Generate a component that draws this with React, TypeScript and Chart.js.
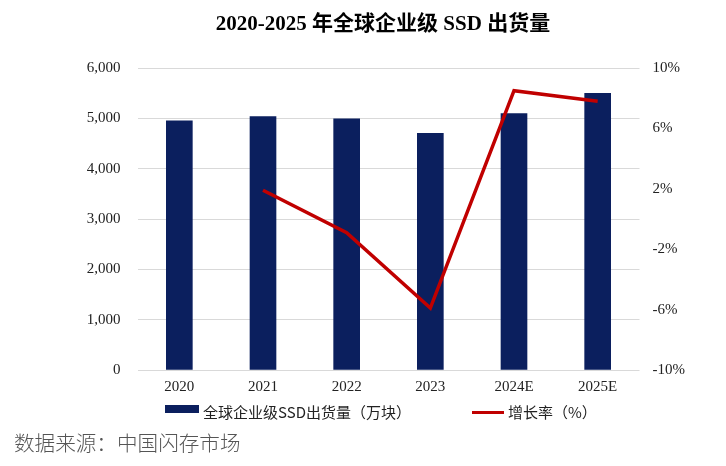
import React, { useEffect, useRef } from "react";
import { Chart, registerables } from "chart.js";

Chart.register(...registerables);

const titleText = "2020-2025 年全球企业级 SSD 出货量";
const sourceText = "数据来源：中国闪存市场";
const categories = ["2020", "2021", "2022", "2023", "2024E", "2025E"];
const shipments = [4950, 5035, 4990, 4700, 5095, 5495];
const growth: (number | null)[] = [null, 1.9, -0.9, -5.9, 8.5, 7.8];
const barLabel = "全球企业级SSD出货量（万块）";
const lineLabel = "增长率（%）";
const leftMin = 0;
const leftMax = 6000;
const leftStep = 1000;
const rightMin = -10;
const rightMax = 10;
const rightStep = 4;

const NAVY = "#0b1f5e";
const RED = "#c00000";
const SERIF = "'Liberation Serif', 'Times New Roman', serif";
const SANS_CJK = "'Noto Sans CJK SC', 'Noto Sans', sans-serif";

export default function App() {
  const canvasRef = useRef<HTMLCanvasElement | null>(null);

  useEffect(() => {
    const canvas = canvasRef.current;
    if (!canvas) return;
    const chart = new Chart(canvas, {
      type: "bar",
      data: {
        labels: categories,
        datasets: [
          {
            type: "line",
            label: lineLabel,
            data: growth,
            yAxisID: "y1",
            borderColor: RED,
            backgroundColor: RED,
            borderWidth: 3.5,
            pointRadius: 0,
            tension: 0,
            order: 0,
          } as any,
          {
            type: "bar",
            label: barLabel,
            data: shipments,
            yAxisID: "y",
            backgroundColor: NAVY,
            barThickness: 26,
            order: 1,
          } as any,
        ],
      },
      options: {
        animation: false,
        responsive: true,
        maintainAspectRatio: false,
        layout: { padding: { top: 68, left: 0, right: 0, bottom: 66 } },
        plugins: {
          legend: { display: false },
          title: { display: false },
          tooltip: { enabled: false },
        },
        scales: {
          x: {
            grid: { display: false, drawTicks: false },
            border: { display: false },
            ticks: {
              color: "#222",
              font: { family: SERIF, size: 15 },
              padding: 8,
            },
            afterFit: (s: any) => {
              s.height = 30;
            },
          },
          y: {
            position: "left",
            min: leftMin,
            max: leftMax,
            grid: { color: "#d9d9d9", lineWidth: 1, drawTicks: false },
            border: { display: false },
            ticks: {
              stepSize: leftStep,
              color: "#222",
              font: { family: SERIF, size: 15 },
              padding: 17,
              callback: (v: any) => Number(v).toLocaleString("en-US"),
            },
            afterFit: (s: any) => {
              s.width = 137.5;
            },
          },
          y1: {
            position: "right",
            min: rightMin,
            max: rightMax,
            grid: { display: false, drawTicks: false },
            border: { display: false },
            ticks: {
              stepSize: rightStep,
              color: "#222",
              font: { family: SERIF, size: 15 },
              padding: 13,
              callback: (v: any) => `${v}%`,
            },
            afterFit: (s: any) => {
              s.width = 86.5;
            },
          },
        },
      },
    });
    return () => chart.destroy();
  }, []);

  return (
    <div
      style={{
        position: "absolute",
        left: 0,
        top: 0,
        width: 726,
        height: 466,
        background: "#fff",
        overflow: "hidden",
      }}
    >
      <canvas ref={canvasRef} style={{ position: "absolute", left: 0, top: 0, width: 726, height: 466 }} />
      <div
        style={{
          position: "absolute",
          left: 383,
          top: 11,
          transform: "translateX(-50%)",
          whiteSpace: "nowrap",
          fontFamily: "'Liberation Serif', 'Noto Sans CJK SC', serif",
          fontWeight: "bold",
          fontSize: 21,
          lineHeight: "24px",
          color: "#000",
        }}
      >
        {titleText}
      </div>
      <div
        style={{
          position: "absolute",
          left: 165,
          top: 405,
          width: 34,
          height: 8,
          background: NAVY,
        }}
      />
      <div
        style={{
          position: "absolute",
          left: 203,
          top: 402,
          whiteSpace: "nowrap",
          fontFamily: SANS_CJK,
          fontSize: 15,
          lineHeight: "20px",
          color: "#222",
        }}
      >
        {barLabel}
      </div>
      <div
        style={{
          position: "absolute",
          left: 472,
          top: 410.5,
          width: 32,
          height: 3,
          background: RED,
        }}
      />
      <div
        style={{
          position: "absolute",
          left: 508,
          top: 402,
          whiteSpace: "nowrap",
          fontFamily: SANS_CJK,
          fontSize: 15,
          lineHeight: "20px",
          color: "#222",
        }}
      >
        {lineLabel}
      </div>
      <div
        style={{
          position: "absolute",
          left: 14,
          top: 429,
          whiteSpace: "nowrap",
          fontFamily: SANS_CJK,
          fontWeight: 300,
          fontSize: 20.6,
          lineHeight: "26px",
          color: "#555",
        }}
      >
        {sourceText}
      </div>
    </div>
  );
}
